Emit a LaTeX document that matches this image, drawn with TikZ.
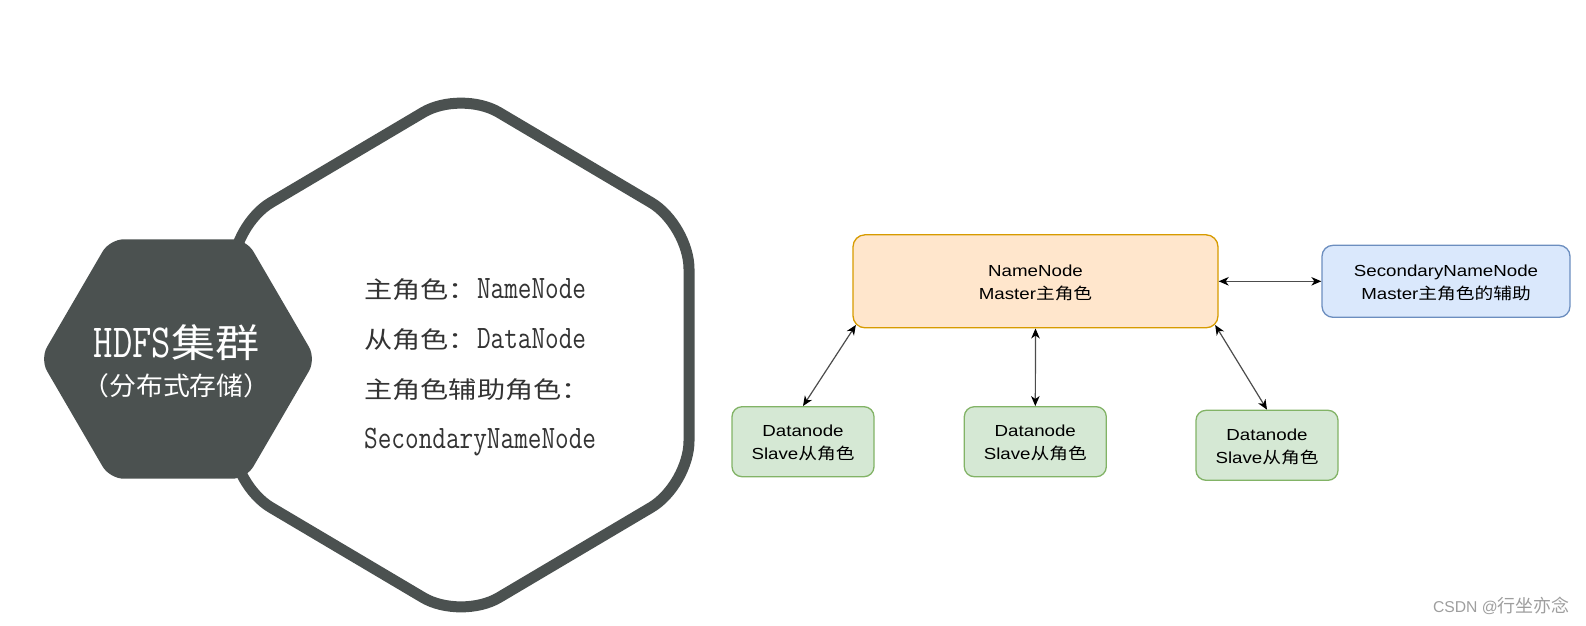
\documentclass[tikz,border=0pt]{standalone}
\usepackage{fontspec}
\setmainfont{Liberation Sans}
\newfontfamily\cjk{Noto Sans CJK SC}
\usetikzlibrary{arrows.meta,calc}
\definecolor{hexgray}{HTML}{4B5150}
\definecolor{nnfill}{HTML}{FFE6CC}
\definecolor{nnline}{HTML}{D79B00}
\definecolor{snfill}{HTML}{DAE8FC}
\definecolor{snline}{HTML}{6C8EBF}
\definecolor{dnfill}{HTML}{D5E8D4}
\definecolor{dnline}{HTML}{82B366}
\definecolor{lefttext}{HTML}{333333}
\definecolor{wmgray}{HTML}{9E9E9E}
\newcommand\HSx[2]{\scalebox{#1}[1]{#2}}
\newcommand\BoxTxt[2]{\HSx{1.17}{\fontsize{16}{23.3}\selectfont\begin{tabular}{@{}c@{}}\rule{0pt}{19.8pt}#1\\#2\end{tabular}}}
\newcommand\LeftCJ[1]{\HSx{1.2}{\cjk\fontsize{23.5}{28}\selectfont #1}}
\newcommand\LeftLM[1]{\HSx{0.81}{\ttfamily\fontsize{32.7}{36}\selectfont #1}}
\begin{document}
\begin{tikzpicture}[x=1pt,y=-1pt,
  bighex/.style={line width=11pt, draw=hexgray, fill=white, rounded corners=44pt, line join=round},
  darkhex/.style={fill=hexgray, rounded corners=14pt},
  box/.style={rectangle, inner sep=0pt, line width=1.3pt, text=black},
  nnbox/.style={box, rounded corners=12pt, fill=nnfill, draw=nnline, minimum width=365pt, minimum height=93pt},
  snbox/.style={box, rounded corners=11pt, fill=snfill, draw=snline, minimum width=248pt, minimum height=72pt},
  dnbox/.style={box, rounded corners=10pt, fill=dnfill, draw=dnline, minimum width=142pt, minimum height=70pt},
  tip/.style={},
  link/.style={line width=1.2pt, draw=black!70, {Stealth[length=10pt,width=8.5pt,inset=3pt,black]}-{Stealth[length=10pt,width=8.5pt,inset=3pt,black]}},
  lefttxt/.style={anchor=base west, inner sep=0pt, text=lefttext},
  hextxt/.style={anchor=base, inner sep=0pt, text=white},
]
\useasboundingbox (0,0) rectangle (1586,625);
% large outlined hexagon
\draw[bighex] (689,355) -- (689,485) -- (461,620) -- (233,485) -- (233,225) -- (461,90) -- (689,225) -- cycle;
% dark hexagon
\fill[darkhex] (178,239.3) -- (246.3,239.3) -- (316,359) -- (246.3,478.7) -- (109.7,478.7) -- (40,359) -- (109.7,239.3) -- cycle;
\node[hextxt] (title) at (176.5,357) {\HSx{0.79}{\ttfamily\fontsize{47.5}{50}\selectfont HDFS}\HSx{1.13}{\cjk\fontsize{39}{42}\selectfont 集群}};
\node[hextxt] (sub) at (176.5,395) {\HSx{1.05}{\cjk\fontsize{25.6}{28}\selectfont （分布式存储）}};
% left text lines
\node[lefttxt] (l1) at (364,298.3) {\LeftCJ{主角色：}\LeftLM{NameNode}};
\node[lefttxt] (l2) at (364,348.3) {\LeftCJ{从角色：}\LeftLM{DataNode}};
\node[lefttxt] (l3) at (364,398.5) {\LeftCJ{主角色辅助角色：}};
\node[lefttxt] (l4) at (364,448.3) {\LeftLM{SecondaryNameNode}};
% right diagram
\node[nnbox] (NN) at (1035.5,281.3) {\BoxTxt{NameNode}{Master{\cjk 主角色}}};
\node[snbox] (SNN) at (1446,281.3) {\BoxTxt{SecondaryNameNode}{Master{\cjk 主角色的辅助}}};
\node[dnbox] (D1) at (803,441.7) {\BoxTxt{Datanode}{Slave{\cjk 从角色}}};
\node[dnbox] (D2) at (1035.3,441.7) {\BoxTxt{Datanode}{Slave{\cjk 从角色}}};
\node[dnbox] (D3) at (1267,445.3) {\BoxTxt{Datanode}{Slave{\cjk 从角色}}};
\draw[link] (NN.east) -- (SNN.west);
\draw[link] ($(NN.south west)+(3.5,-3.5)$) -- (D1.north);
\draw[link] (NN.south) -- (D2.north);
\draw[link] ($(NN.south east)+(-3.5,-3.5)$) -- (D3.north);
% watermark
\node[anchor=base east, inner sep=0pt, text=wmgray] (wm) at (1570,612) {\fontsize{15.7}{18}\selectfont CSDN @{\cjk\fontsize{18}{20}\selectfont 行坐亦念}};
\end{tikzpicture}
\end{document}
